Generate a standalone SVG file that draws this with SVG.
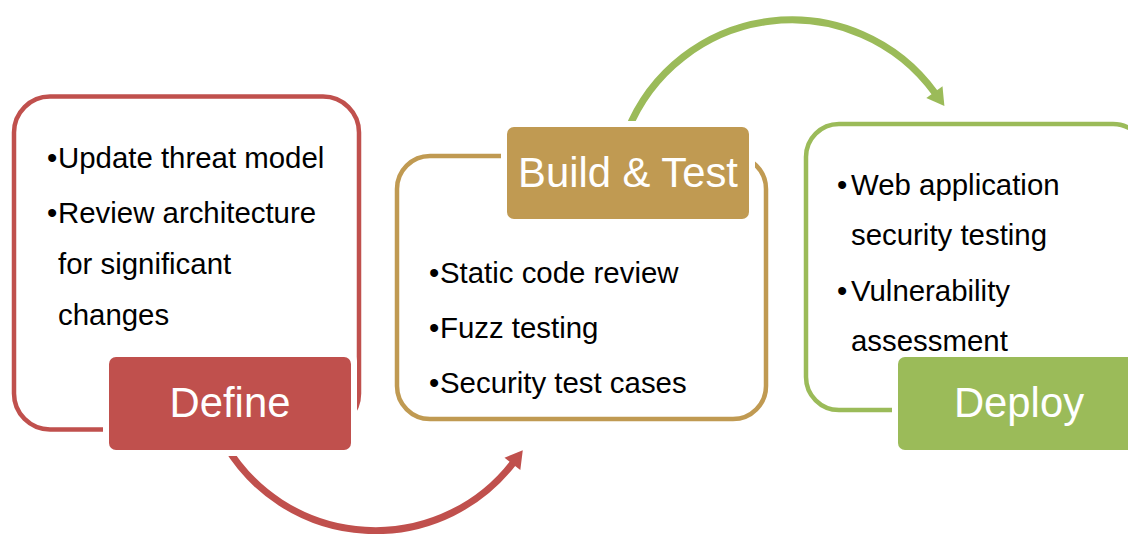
<svg xmlns="http://www.w3.org/2000/svg" width="1128" height="534" viewBox="0 0 1128 534">
  <defs>
    <style>
      .outline { fill: none; stroke-width: 4.5; }
      .halo { fill: #ffffff; }
      .item { font-family: "Liberation Sans", Arial, sans-serif; font-size: 29.4px; fill: #000000; }
      .title { font-family: "Liberation Sans", Arial, sans-serif; font-size: 41.8px; fill: #ffffff; text-anchor: middle; }
      .red { stroke: #C0504D; }
      .gold { stroke: #C09A52; }
      .green { stroke: #9BBB59; }
      .flow { fill: none; stroke-width: 7; }
    </style>
    <marker id="head-red" markerUnits="userSpaceOnUse" orient="auto" markerWidth="40" markerHeight="40" refX="0" refY="0" viewBox="-20 -20 40 40" overflow="visible">
      <path d="M -1 -10 L 16 0 L -1 10 Z" fill="#C0504D"/>
    </marker>
    <marker id="head-green" markerUnits="userSpaceOnUse" orient="auto" markerWidth="40" markerHeight="40" refX="0" refY="0" viewBox="-20 -20 40 40" overflow="visible">
      <path d="M -1 -10 L 16 0 L -1 10 Z" fill="#9BBB59"/>
    </marker>
  </defs>

  <rect width="1128" height="534" fill="#ffffff"/>

  <!-- curved arrows between phases -->
  <g id="connectors">
    <path class="flow red" d="M 226,446 A 174 174 0 0 0 513,463" marker-end="url(#head-red)"/>
    <path class="flow green" d="M 627,132 A 177 177 0 0 1 935,93" marker-end="url(#head-green)"/>
  </g>

  <!-- Define phase -->
  <g id="define">
    <rect class="outline red" x="14" y="96.5" width="345" height="333" rx="36"/>
    <text class="item"><tspan x="47" y="168">•</tspan><tspan x="58" y="168">Update threat model</tspan></text>
    <text class="item"><tspan x="47" y="223">•</tspan><tspan x="58" y="223">Review architecture</tspan></text>
    <text class="item" x="58" y="274">for significant</text>
    <text class="item" x="58" y="325">changes</text>
    <rect class="halo" x="103" y="351" width="254" height="105" rx="10"/>
    <rect x="109" y="357" width="242" height="93" rx="7" fill="#C0504D"/>
    <text class="title" x="230" y="417">Define</text>
  </g>

  <!-- Build & Test phase -->
  <g id="build-test">
    <rect class="outline gold" x="397" y="156" width="369" height="263" rx="33"/>
    <text class="item"><tspan x="429" y="283">•</tspan><tspan x="440" y="283">Static code review</tspan></text>
    <text class="item"><tspan x="429" y="338">•</tspan><tspan x="440" y="338">Fuzz testing</tspan></text>
    <text class="item"><tspan x="429" y="393">•</tspan><tspan x="440" y="393">Security test cases</tspan></text>
    <rect class="halo" x="501" y="121" width="254" height="104" rx="10"/>
    <rect x="507" y="127" width="242" height="92" rx="7" fill="#C09A52"/>
    <text class="title" x="628" y="187">Build &amp; Test</text>
  </g>

  <!-- Deploy phase -->
  <g id="deploy">
    <rect class="outline green" x="806" y="124" width="340" height="286" rx="33"/>
    <text class="item"><tspan x="837" y="195">•</tspan><tspan x="851" y="195">Web application</tspan></text>
    <text class="item" x="851" y="245">security testing</text>
    <text class="item"><tspan x="837" y="301">•</tspan><tspan x="851" y="301">Vulnerability</tspan></text>
    <text class="item" x="851" y="351">assessment</text>
    <rect class="halo" x="892" y="351" width="254" height="105" rx="10"/>
    <rect x="898" y="357" width="242" height="93" rx="7" fill="#9BBB59"/>
    <text class="title" x="1019" y="417">Deploy</text>
  </g>
</svg>
